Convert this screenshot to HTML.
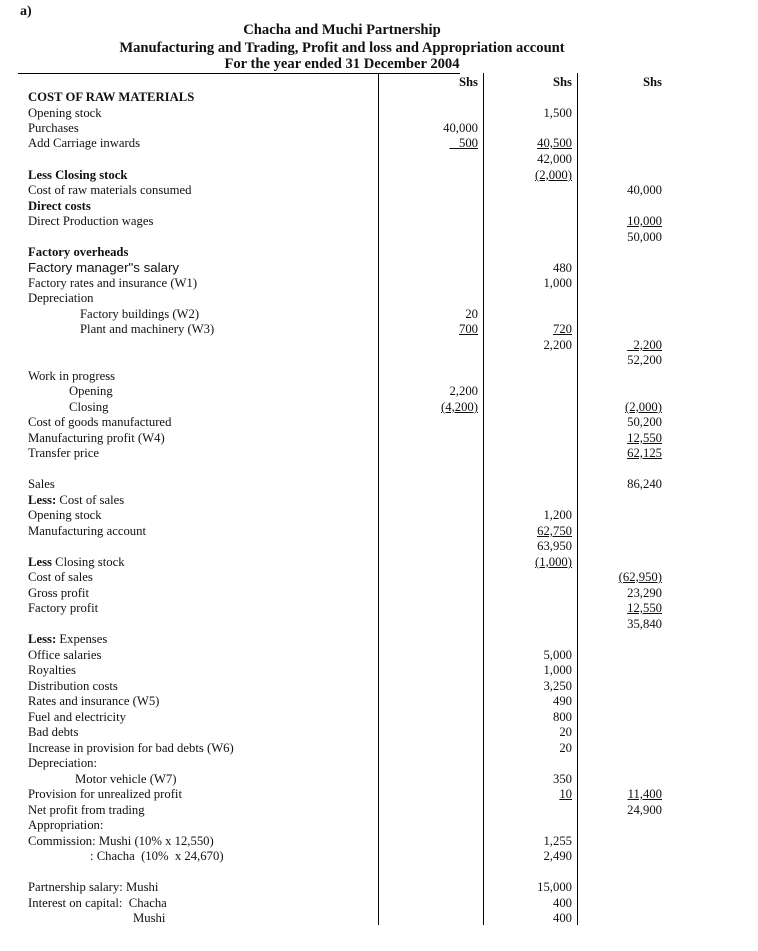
<!DOCTYPE html>
<html><head><meta charset="utf-8"><style>
body{margin:0;width:758px;height:951px;background:#fff;position:relative;overflow:hidden;font-family:"Liberation Serif",serif;font-size:12.7px;color:#111}
div{position:absolute;white-space:nowrap;line-height:16px;height:16px}
.l{left:28px}
.c1{right:280px;text-align:right}
.c2{right:186px;text-align:right}
.c3{right:96px;text-align:right}
.b{font-weight:bold}
.u{text-decoration:underline}
.v{position:absolute;top:73px;height:852px;width:1px;background:#000}
.t{left:0;width:684px;text-align:center;font-size:14.6px;font-weight:bold}
</style></head><body>
<div class="b" style="left:20px;top:4px;font-size:14px">a)</div>
<div class="t" style="top:22px">Chacha and Muchi Partnership</div>
<div class="t" style="top:40px">Manufacturing and Trading, Profit and loss and Appropriation account</div>
<div class="t" style="top:56px">For the year ended 31 December 2004</div>
<span style="position:absolute;left:18px;top:73px;width:442px;height:1px;background:#000"></span>
<span class="v" style="left:378px"></span>
<span class="v" style="left:483px"></span>
<span class="v" style="left:577px"></span>
<div class="c1 b" style="top:74px">Shs</div><div class="c2 b" style="top:74px">Shs</div><div class="c3 b" style="top:74px">Shs</div>
<div class="l b" style="top:89px">COST OF RAW MATERIALS</div>
<div class="l" style="top:105px">Opening stock</div><div class="c2" style="top:105px">1,500</div>
<div class="l" style="top:120px">Purchases</div><div class="c1" style="top:120px">40,000</div>
<div class="l" style="top:135px">Add Carriage inwards</div><div class="c1 u" style="top:135px">&nbsp;&nbsp;&nbsp;500</div><div class="c2 u" style="top:135px">40,500</div>
<div class="c2" style="top:151px">42,000</div>
<div class="l b" style="top:167px">Less Closing stock</div><div class="c2 u" style="top:167px">(2,000)</div>
<div class="l" style="top:182px">Cost of raw materials consumed</div><div class="c3" style="top:182px">40,000</div>
<div class="l b" style="top:198px">Direct costs</div>
<div class="l" style="top:213px">Direct Production wages</div><div class="c3 u" style="top:213px">10,000</div>
<div class="c3" style="top:229px">50,000</div>
<div class="l b" style="top:244px">Factory overheads</div>
<div class="l" style="top:260px;font-family:'Liberation Sans',sans-serif;font-size:13.3px">Factory manager"s salary</div><div class="c2" style="top:260px">480</div>
<div class="l" style="top:275px">Factory rates and insurance (W1)</div><div class="c2" style="top:275px">1,000</div>
<div class="l" style="top:290px">Depreciation</div>
<div style="left:80px;top:306px">Factory buildings (W2)</div><div class="c1" style="top:306px">20</div>
<div style="left:80px;top:321px">Plant and machinery (W3)</div><div class="c1 u" style="top:321px">700</div><div class="c2 u" style="top:321px">720</div>
<div class="c2" style="top:337px">2,200</div><div class="c3 u" style="top:337px">&nbsp;&nbsp;2,200</div>
<div class="c3" style="top:352px">52,200</div>
<div class="l" style="top:368px">Work in progress</div>
<div style="left:69px;top:383px">Opening</div><div class="c1" style="top:383px">2,200</div>
<div style="left:69px;top:399px">Closing</div><div class="c1 u" style="top:399px">(4,200)</div><div class="c3 u" style="top:399px">(2,000)</div>
<div class="l" style="top:414px">Cost of goods manufactured</div><div class="c3" style="top:414px">50,200</div>
<div class="l" style="top:430px">Manufacturing profit (W4)</div><div class="c3 u" style="top:430px">12,550</div>
<div class="l" style="top:445px">Transfer price</div><div class="c3 u" style="top:445px">62,125</div>
<div class="l" style="top:476px">Sales</div><div class="c3" style="top:476px">86,240</div>
<div class="l" style="top:492px"><b>Less:</b> Cost of sales</div>
<div class="l" style="top:507px">Opening stock</div><div class="c2" style="top:507px">1,200</div>
<div class="l" style="top:523px">Manufacturing account</div><div class="c2 u" style="top:523px">62,750</div>
<div class="c2" style="top:538px">63,950</div>
<div class="l" style="top:554px"><b>Less</b> Closing stock</div><div class="c2 u" style="top:554px">(1,000)</div>
<div class="l" style="top:569px">Cost of sales</div><div class="c3 u" style="top:569px">(62,950)</div>
<div class="l" style="top:585px">Gross profit</div><div class="c3" style="top:585px">23,290</div>
<div class="l" style="top:600px">Factory profit</div><div class="c3 u" style="top:600px">12,550</div>
<div class="c3" style="top:616px">35,840</div>
<div class="l" style="top:631px"><b>Less:</b> Expenses</div>
<div class="l" style="top:647px">Office salaries</div><div class="c2" style="top:647px">5,000</div>
<div class="l" style="top:662px">Royalties</div><div class="c2" style="top:662px">1,000</div>
<div class="l" style="top:678px">Distribution costs</div><div class="c2" style="top:678px">3,250</div>
<div class="l" style="top:693px">Rates and insurance (W5)</div><div class="c2" style="top:693px">490</div>
<div class="l" style="top:709px">Fuel and electricity</div><div class="c2" style="top:709px">800</div>
<div class="l" style="top:724px">Bad debts</div><div class="c2" style="top:724px">20</div>
<div class="l" style="top:740px">Increase in provision for bad debts (W6)</div><div class="c2" style="top:740px">20</div>
<div class="l" style="top:755px">Depreciation:</div>
<div style="left:75px;top:771px">Motor vehicle (W7)</div><div class="c2" style="top:771px">350</div>
<div class="l" style="top:786px">Provision for unrealized profit</div><div class="c2 u" style="top:786px">10</div><div class="c3 u" style="top:786px">11,400</div>
<div class="l" style="top:802px">Net profit from trading</div><div class="c3" style="top:802px">24,900</div>
<div class="l" style="top:817px">Appropriation:</div>
<div class="l" style="top:833px">Commission: Mushi (10% x 12,550)</div><div class="c2" style="top:833px">1,255</div>
<div style="left:90px;top:848px">: Chacha&nbsp; (10%&nbsp; x 24,670)</div><div class="c2" style="top:848px">2,490</div>
<div class="l" style="top:879px">Partnership salary: Mushi</div><div class="c2" style="top:879px">15,000</div>
<div class="l" style="top:895px">Interest on capital:&nbsp; Chacha</div><div class="c2" style="top:895px">400</div>
<div style="left:133px;top:910px">Mushi</div><div class="c2" style="top:910px">400</div>
</body></html>
